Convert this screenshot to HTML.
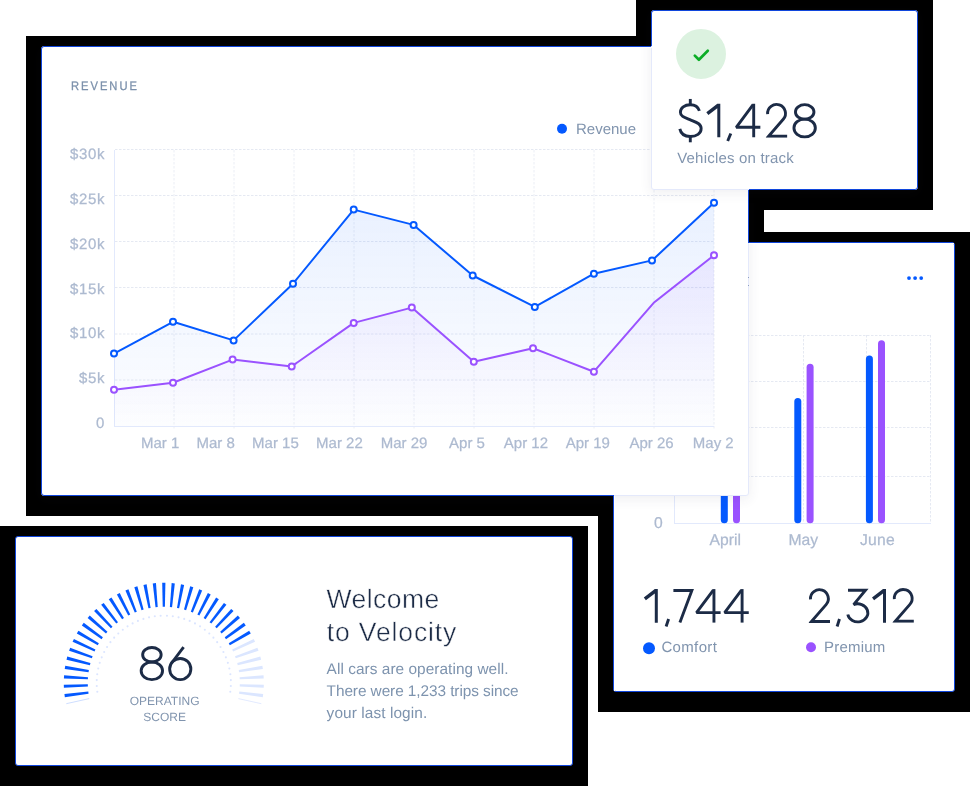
<!DOCTYPE html>
<html>
<head>
<meta charset="utf-8">
<title>Velocity</title>
<style>
html,body{margin:0;padding:0;}
body{width:970px;height:786px;background:#fff;position:relative;overflow:hidden;font-family:"Liberation Sans",sans-serif;}
.abs{position:absolute;}
.blk{position:absolute;background:#000;}
.card{position:absolute;background:#fff;border-radius:3px;box-sizing:border-box;}
.t{position:absolute;white-space:nowrap;line-height:1;}
.soft{color:#8094ae;}
.dark{color:#1c2b46;}
svg{will-change:transform;}
text{text-rendering:geometricPrecision;}
</style>
</head>
<body>

<!-- black backdrops -->
<div class="blk" style="left:26px;top:36px;width:738px;height:480px;"></div>
<div class="blk" style="left:636px;top:0;width:297px;height:210px;"></div>
<div class="blk" style="left:598px;top:232px;width:372px;height:480px;"></div>
<div class="blk" style="left:0;top:526px;width:588px;height:260px;"></div>

<!-- RIGHT CARD -->
<div class="card" id="rightcard" style="left:613px;top:242px;width:342px;height:450px;border:1px solid #1046dc;">
<svg class="abs" style="left:0;top:0" width="340" height="448" viewBox="614 243 340 448">
<g stroke="#e5e9f2" stroke-width="1" stroke-dasharray="2.5 1.5"><line x1="675" y1="335.5" x2="931" y2="335.5"/><line x1="675" y1="381.5" x2="931" y2="381.5"/><line x1="675" y1="427.5" x2="931" y2="427.5"/><line x1="675" y1="476.5" x2="931" y2="476.5"/><line x1="739.5" y1="335" x2="739.5" y2="524"/><line x1="803.5" y1="335" x2="803.5" y2="524"/><line x1="866.5" y1="335" x2="866.5" y2="524"/><line x1="930.5" y1="335" x2="930.5" y2="524"/></g>
<line x1="674.5" y1="335" x2="674.5" y2="524" stroke="#e2e9fc"/><line x1="674" y1="523.5" x2="931" y2="523.5" stroke="#e2e9fc"/>
<rect x="720.8" y="300" width="7" height="223.3" rx="3.5" fill="#0459ff"/>
<rect x="733.0" y="300" width="7" height="223.3" rx="3.5" fill="#9a52ff"/>
<rect x="794.3" y="397.9" width="7" height="125.4" rx="3.5" fill="#0459ff"/>
<rect x="806.6" y="363.7" width="7" height="159.6" rx="3.5" fill="#9a52ff"/>
<rect x="865.9" y="355.4" width="7" height="167.9" rx="3.5" fill="#0459ff"/>
<rect x="878.0" y="340.2" width="7" height="183.1" rx="3.5" fill="#9a52ff"/>
<g font-family="Liberation Sans, sans-serif" font-size="15.7" fill="#adbad0" stroke="#adbad0" stroke-width="0.25" text-anchor="middle"><text x="725.3" y="545.3">April</text><text x="803.2" y="545.3">May</text><text x="877.5" y="545.3" letter-spacing="0.3">June</text><text x="658.4" y="527.7">0</text></g>
<g fill="#0459ff"><circle cx="909" cy="278.1" r="1.9"/><circle cx="915.1" cy="278.1" r="1.9"/><circle cx="921.2" cy="278.1" r="1.9"/></g>
<g fill="none" stroke="#1c2b46" stroke-width="2.9"><polygon stroke="none" fill="#1c2b46" points="654.8,589.1 657.8,589.1 657.8,622.7 654.8,622.7 654.8,593.6 645.9,600.3 643.8,597.6"/><line x1="668.6" y1="619.0" x2="666.1" y2="626.5"/><polyline points="673.40,590.50 691.87,590.50 679.90,622.60" stroke-linejoin="miter"/><polyline points="720.60,612.60 696.49,612.60 713.34,590.05" stroke-linejoin="bevel"/><line x1="713.95" y1="589.10" x2="713.95" y2="622.60"/><polyline points="748.75,612.60 724.64,612.60 741.49,590.05" stroke-linejoin="bevel"/><line x1="742.10" y1="589.10" x2="742.10" y2="622.60"/><clipPath id="k2_1"><rect x="808.65" y="582.90" width="30" height="40.15"/></clipPath><g clip-path="url(#k2_1)"><path d="M810.47,599.32 A8.95,8.95 0 1 1 826.10,604.60 L811.40,621.50 L830.00,621.50" stroke-linejoin="miter"/></g><line x1="839.5" y1="619.0" x2="837.1" y2="626.5"/><path d="M848.00,590.30 L865.50,590.30 L853.60,604.65 A10.1,9.0 0 1 1 847.80,614.50" stroke-linejoin="miter" stroke-miterlimit="3"/><polygon stroke="none" fill="#1c2b46" points="883.0,589.1 886.0,589.1 886.0,622.7 883.0,622.7 883.0,593.6 874.1,600.3 872.0,597.6"/><clipPath id="k2_2"><rect x="892.45" y="582.70" width="30" height="40.15"/></clipPath><g clip-path="url(#k2_2)"><path d="M894.27,599.12 A8.95,8.95 0 1 1 909.90,604.40 L895.20,621.30 L913.80,621.30" stroke-linejoin="miter"/></g></g>
<circle cx="649" cy="648.3" r="6" fill="#0459ff"/><circle cx="811" cy="647.3" r="5" fill="#9a52ff"/>
<g font-family="Liberation Sans, sans-serif" font-size="15" fill="#8094ae"><text id="cf" x="661.4" y="651.9" letter-spacing="0.35">Comfort</text><text id="pm" x="824" y="651.9" letter-spacing="0.2">Premium</text></g>
</svg>
</div>

<!-- REVENUE CARD -->
<div class="card" id="revcard" style="left:41px;top:46px;width:708px;height:450px;border:1px solid #e4e9fb;box-shadow:0 3px 12px 1px rgba(50,60,90,0.07);">
<svg class="abs" style="left:0;top:0" width="706" height="448" viewBox="42 47 706 448">
<defs><linearGradient id="gb" x1="0" y1="150" x2="0" y2="426" gradientUnits="userSpaceOnUse"><stop offset="0" stop-color="#0459ff" stop-opacity="0.105"/><stop offset="1" stop-color="#0459ff" stop-opacity="0.01"/></linearGradient>
<linearGradient id="gp" x1="0" y1="150" x2="0" y2="426" gradientUnits="userSpaceOnUse"><stop offset="0" stop-color="#9a52ff" stop-opacity="0.13"/><stop offset="1" stop-color="#9a52ff" stop-opacity="0.0"/></linearGradient></defs>
<g stroke="#e5e9f2" stroke-width="1" stroke-dasharray="2.5 1.5"><line x1="115" y1="149.5" x2="714" y2="149.5"/><line x1="115" y1="195.5" x2="714" y2="195.5"/><line x1="115" y1="241.5" x2="714" y2="241.5"/><line x1="115" y1="287.5" x2="714" y2="287.5"/><line x1="115" y1="334" x2="714" y2="334"/><line x1="115" y1="380" x2="714" y2="380"/></g>
<g stroke="#ebeef5" stroke-width="1" stroke-dasharray="2.5 1.5"><line x1="174" y1="150" x2="174" y2="430"/><line x1="234" y1="150" x2="234" y2="430"/><line x1="294" y1="150" x2="294" y2="430"/><line x1="354" y1="150" x2="354" y2="430"/><line x1="414" y1="150" x2="414" y2="430"/><line x1="474" y1="150" x2="474" y2="430"/><line x1="534" y1="150" x2="534" y2="430"/><line x1="594" y1="150" x2="594" y2="430"/><line x1="654" y1="150" x2="654" y2="430"/><line x1="714" y1="150" x2="714" y2="430"/></g>
<line x1="114.5" y1="150" x2="114.5" y2="427" stroke="#e2e9fc"/><line x1="114" y1="426.5" x2="714" y2="426.5" stroke="#e2e9fc"/>
<polygon points="114,353.6 173,321.8 233.6,340.4 293,283.7 353.7,209.6 413.6,224.9 472.7,275.5 534.8,306.9 593.9,273.7 652,260.4 714,202.8 714,426 114,426" fill="url(#gb)"/>
<polygon points="114,389.8 173,382.8 232.6,359.6 291.7,366.4 353.7,322.9 411.8,307.6 473.8,361.8 533,348.2 593.9,371.7 653.7,302.8 714,255.2 714,426 114,426" fill="url(#gp)"/>
<polyline points="114,353.6 173,321.8 233.6,340.4 293,283.7 353.7,209.6 413.6,224.9 472.7,275.5 534.8,306.9 593.9,273.7 652,260.4 714,202.8" fill="none" stroke="#0459ff" stroke-width="2" stroke-linejoin="round"/>
<polyline points="114,389.8 173,382.8 232.6,359.6 291.7,366.4 353.7,322.9 411.8,307.6 473.8,361.8 533,348.2 593.9,371.7 653.7,302.8 714,255.2" fill="none" stroke="#9a52ff" stroke-width="2" stroke-linejoin="round"/>
<g fill="#fff" stroke="#0459ff" stroke-width="2"><circle cx="114" cy="353.6" r="3"/><circle cx="173" cy="321.8" r="3"/><circle cx="233.6" cy="340.4" r="3"/><circle cx="293" cy="283.7" r="3"/><circle cx="353.7" cy="209.6" r="3"/><circle cx="413.6" cy="224.9" r="3"/><circle cx="472.7" cy="275.5" r="3"/><circle cx="534.8" cy="306.9" r="3"/><circle cx="593.9" cy="273.7" r="3"/><circle cx="652" cy="260.4" r="3"/><circle cx="714" cy="202.8" r="3"/></g>
<g fill="#fff" stroke="#9a52ff" stroke-width="2"><circle cx="114" cy="389.8" r="3"/><circle cx="173" cy="382.8" r="3"/><circle cx="232.6" cy="359.6" r="3"/><circle cx="291.7" cy="366.4" r="3"/><circle cx="353.7" cy="322.9" r="3"/><circle cx="411.8" cy="307.6" r="3"/><circle cx="473.8" cy="361.8" r="3"/><circle cx="533" cy="348.2" r="3"/><circle cx="593.9" cy="371.7" r="3"/><circle cx="714" cy="255.2" r="3"/></g>
<g font-family="Liberation Sans, sans-serif" font-size="15" fill="#adbad0" stroke="#adbad0" stroke-width="0.25" text-anchor="end" letter-spacing="0.6"><text x="105" y="158.7">$30k</text><text x="105" y="203.6">$25k</text><text x="105" y="248.6">$20k</text><text x="105" y="293.5">$15k</text><text x="105" y="338.4">$10k</text><text x="105" y="383.4">$5k</text><text x="105" y="428.3">0</text></g>
<g font-family="Liberation Sans, sans-serif" font-size="15" fill="#adbad0" stroke="#adbad0" stroke-width="0.25" text-anchor="middle"><text x="160.1" y="447.9">Mar 1</text><text x="215.7" y="447.9">Mar 8</text><text x="275.4" y="447.9">Mar 15</text><text x="339.4" y="447.9">Mar 22</text><text x="404.1" y="447.9">Mar 29</text><text x="467.0" y="447.9">Apr 5</text><text x="525.9" y="447.9">Apr 12</text><text x="587.8" y="447.9">Apr 19</text><text x="651.5" y="447.9">Apr 26</text><text x="713.3" y="447.9">May 2</text></g>
<text transform="translate(70.9,90) scale(0.9,1)" x="0" y="0" font-family="Liberation Sans, sans-serif" font-size="12.4" fill="#7b90ab" stroke="#7b90ab" stroke-width="0.3" stroke-linejoin="round" letter-spacing="2.25">REVENUE</text>
<circle cx="562" cy="128.8" r="5" fill="#0459ff"/>
<text x="576" y="133.7" font-family="Liberation Sans, sans-serif" font-size="15" fill="#8094ae">Revenue</text>
</svg>
</div>

<div class="abs" style="left:41px;top:46px;width:708px;height:450px;box-sizing:border-box;border:1px solid #1046dc;border-radius:3px;clip-path:polygon(0 0,708px 0,708px 197px,573px 197px,573px 450px,0 450px);"></div>

<div class="abs" style="left:748px;top:277px;width:1px;height:1px;background:#8e9fc2;"></div><div class="abs" style="left:748px;top:285px;width:1px;height:1px;background:#8e9fc2;"></div>
<div class="abs" style="left:749px;top:243px;width:205px;height:1px;background:#fff;"></div><div class="abs" style="left:614px;top:496px;width:1px;height:195px;background:#fff;"></div>
<!-- STAT CARD -->
<div class="card" id="statcard" style="left:651px;top:10px;width:267px;height:180px;border:1px solid #e4e9fb;box-shadow:0 3px 12px 1px rgba(50,60,90,0.07);">
<svg class="abs" style="left:0;top:0" width="265" height="178" viewBox="652 11 265 178">
<circle cx="701" cy="53.9" r="25" fill="#dcf2e0"/>
<polyline points="694.8,55.6 698.9,59.7 707.8,50.8" fill="none" stroke="#0bad26" stroke-width="2.7" stroke-linecap="round" stroke-linejoin="round"/>
<g fill="none" stroke="#1c2b46" stroke-width="2.9"><path d="M699.4,110.9 C698.2,107.0 694.8,104.75 690.3,104.75 C684.6,104.75 680.4,108.0 680.4,112.2 C680.4,116.6 684.9,117.65 690.9,120.1 C696.9,122.55 701.15,123.9 701.15,128.6 C701.15,133.4 696.6,136.55 690.3,136.55 C684.6,136.55 680.8,133.5 679.8,128.9"/><line x1="690.3" y1="98.95" x2="690.3" y2="105"/><line x1="690.3" y1="136.3" x2="690.3" y2="142.3"/></g><g fill="none" stroke="#1c2b46" stroke-width="2.9"><polygon stroke="none" fill="#1c2b46" points="717.3,103.7 720.3,103.7 720.3,137.3 717.3,137.3 717.3,108.2 708.4,114.9 706.3,112.2"/><line x1="730.8" y1="133.5" x2="727.7" y2="141.0"/><polyline points="760.35,127.26 736.24,127.26 753.09,104.71" stroke-linejoin="bevel"/><line x1="753.70" y1="103.76" x2="753.70" y2="137.26"/><clipPath id="k2_3"><rect x="765.80" y="97.60" width="30" height="40.15"/></clipPath><g clip-path="url(#k2_3)"><path d="M767.62,114.02 A8.95,8.95 0 1 1 783.25,119.30 L768.55,136.20 L787.15,136.20" stroke-linejoin="miter"/></g><ellipse cx="804.70" cy="111.90" rx="9.25" ry="7.25"/><ellipse cx="804.65" cy="128.00" rx="10.7" ry="8.85"/></g>
<text id="vot" x="677.2" y="162.6" font-family="Liberation Sans, sans-serif" font-size="15" fill="#8094ae" letter-spacing="0.2">Vehicles on track</text>
</svg>
</div>

<div class="abs" style="left:651px;top:10px;width:267px;height:180px;box-sizing:border-box;border:1px solid #1046dc;border-radius:3px;clip-path:polygon(0 0,267px 0,267px 180px,98px 180px,98px 36px,0 36px);"></div>

<div class="abs" style="left:630px;top:47px;width:22px;height:1px;background:#fff;"></div>
<!-- WELCOME CARD -->
<div class="card" id="welcard" style="left:15px;top:536px;width:558px;height:230px;border:1px solid #1046dc;">
<svg class="abs" style="left:0;top:0" width="556" height="228" viewBox="16 537 556 228">
<defs><clipPath id="gclip"><rect x="40" y="560" width="260" height="146"/></clipPath></defs>
<g clip-path="url(#gclip)">
<g fill="#0459ff"><polygon points="88.57,693.65 88.29,691.47 64.42,694.06 64.83,697.23"/><polygon points="87.88,686.51 87.81,684.31 63.80,684.64 63.91,687.84"/><polygon points="87.87,679.34 88.00,677.14 64.08,675.20 63.88,678.40"/><polygon points="88.54,672.19 88.87,670.02 65.24,665.83 64.74,669.00"/><polygon points="89.87,665.15 90.41,663.01 67.28,656.62 66.49,659.72"/><polygon points="91.86,658.25 92.61,656.18 70.17,647.63 69.10,650.65"/><polygon points="94.50,651.58 95.43,649.59 73.91,638.96 72.55,641.86"/><polygon points="97.75,645.19 98.87,643.29 78.44,630.68 76.82,633.44"/><polygon points="101.59,639.13 102.88,637.34 83.73,622.87 81.86,625.46"/><polygon points="105.99,633.46 107.44,631.80 89.74,615.58 87.63,617.99"/><polygon points="110.90,628.23 112.50,626.72 96.41,608.90 94.08,611.10"/><polygon points="116.28,623.48 118.01,622.13 103.68,602.88 101.15,604.84"/><polygon points="122.08,619.26 123.94,618.08 111.48,597.56 108.78,599.28"/><polygon points="128.26,615.61 130.22,614.61 119.75,593.01 116.90,594.47"/><polygon points="134.75,612.56 136.80,611.75 128.41,589.26 125.44,590.44"/><polygon points="141.50,610.14 143.61,609.52 137.39,586.34 134.31,587.23"/><polygon points="148.45,608.36 150.61,607.94 146.60,584.28 143.46,584.88"/><polygon points="155.54,607.24 157.73,607.03 155.96,583.09 152.78,583.40"/><polygon points="162.70,606.80 164.90,606.80 165.40,582.80 162.20,582.80"/><polygon points="169.87,607.03 172.06,607.24 174.82,583.40 171.64,583.09"/><polygon points="176.99,607.94 179.15,608.36 184.14,584.88 181.00,584.28"/><polygon points="183.99,609.52 186.10,610.14 193.29,587.23 190.21,586.34"/><polygon points="190.80,611.75 192.85,612.56 202.16,590.44 199.19,589.26"/><polygon points="197.38,614.61 199.34,615.61 210.70,594.47 207.85,593.01"/><polygon points="203.66,618.08 205.52,619.26 218.82,599.28 216.12,597.56"/><polygon points="209.59,622.13 211.32,623.48 226.45,604.84 223.92,602.88"/><polygon points="215.10,626.72 216.70,628.23 233.52,611.10 231.19,608.90"/><polygon points="220.16,631.80 221.61,633.46 239.97,617.99 237.86,615.58"/><polygon points="224.72,637.34 226.01,639.13 245.74,625.46 243.87,622.87"/><polygon points="228.73,643.29 229.85,645.19 250.78,633.44 249.16,630.68"/></g>
<g fill="#dbe6ff"><polygon points="232.17,649.59 233.10,651.58 255.05,641.86 253.69,638.96"/><polygon points="234.99,656.18 235.74,658.25 258.50,650.65 257.43,647.63"/><polygon points="237.19,663.01 237.73,665.15 261.11,659.72 260.32,656.62"/><polygon points="238.73,670.02 239.06,672.19 262.86,669.00 262.36,665.83"/><polygon points="239.60,677.14 239.73,679.34 263.72,678.40 263.52,675.20"/><polygon points="239.79,684.31 239.72,686.51 263.69,687.84 263.80,684.64"/><polygon points="239.31,691.47 239.03,693.65 262.77,697.23 263.18,694.06"/></g>
<line x1="66.3" y1="703.7" x2="89.2" y2="698.6" stroke="#0459ff" stroke-opacity="0.22" stroke-width="0.9"/>
<line x1="261.3" y1="703.7" x2="238.4" y2="698.6" stroke="#c9d8ff" stroke-opacity="0.6" stroke-width="0.9"/>
</g>
<g fill="#dbe5ff"><circle cx="166.96" cy="615.77" r="1.05"/><circle cx="160.64" cy="615.77" r="1.05"/><circle cx="172.79" cy="616.31" r="1.05"/><circle cx="154.81" cy="616.31" r="1.05"/><circle cx="178.55" cy="617.34" r="1.05"/><circle cx="149.05" cy="617.34" r="1.05"/><circle cx="184.20" cy="618.88" r="1.05"/><circle cx="143.40" cy="618.88" r="1.05"/><circle cx="189.69" cy="620.90" r="1.05"/><circle cx="137.91" cy="620.90" r="1.05"/><circle cx="194.99" cy="623.39" r="1.05"/><circle cx="132.61" cy="623.39" r="1.05"/><circle cx="200.05" cy="626.33" r="1.05"/><circle cx="127.55" cy="626.33" r="1.05"/><circle cx="204.83" cy="629.71" r="1.05"/><circle cx="122.77" cy="629.71" r="1.05"/><circle cx="209.30" cy="633.49" r="1.05"/><circle cx="118.30" cy="633.49" r="1.05"/><circle cx="213.43" cy="637.64" r="1.05"/><circle cx="114.17" cy="637.64" r="1.05"/><circle cx="217.18" cy="642.14" r="1.05"/><circle cx="110.42" cy="642.14" r="1.05"/><circle cx="220.52" cy="646.94" r="1.05"/><circle cx="107.08" cy="646.94" r="1.05"/><circle cx="223.43" cy="652.02" r="1.05"/><circle cx="104.17" cy="652.02" r="1.05"/><circle cx="225.88" cy="657.34" r="1.05"/><circle cx="101.72" cy="657.34" r="1.05"/><circle cx="227.86" cy="662.85" r="1.05"/><circle cx="99.74" cy="662.85" r="1.05"/><circle cx="229.36" cy="668.51" r="1.05"/><circle cx="98.24" cy="668.51" r="1.05"/><circle cx="230.36" cy="674.27" r="1.05"/><circle cx="97.24" cy="674.27" r="1.05"/><circle cx="230.85" cy="680.11" r="1.05"/><circle cx="96.75" cy="680.11" r="1.05"/><circle cx="230.83" cy="685.96" r="1.05"/><circle cx="96.77" cy="685.96" r="1.05"/><circle cx="230.29" cy="691.79" r="1.05"/><circle cx="97.31" cy="691.79" r="1.05"/></g>
<g fill="none" stroke="#1c2b46" stroke-width="2.9"><ellipse cx="151.9" cy="654.7" rx="9.25" ry="7.25"/><ellipse cx="151.85" cy="670.8" rx="10.7" ry="8.85"/><circle cx="180.25" cy="669.05" r="10.6"/><path d="M183.6,647.1 L171.6,663"/></g>
<g font-family="Liberation Sans, sans-serif" font-size="12" fill="#8094ae" text-anchor="middle"><text x="164.6" y="704.8">OPERATING</text><text x="164.6" y="720.8">SCORE</text></g>
<g font-family="Liberation Sans, sans-serif" font-size="26.5" fill="#1c2b46" stroke="#fff" stroke-width="0.45"><text id="w1" x="326.6" y="608.3" letter-spacing="0.45">Welcome</text><text id="w2" x="326.8" y="640.5" letter-spacing="0.87">to Velocity</text></g>
<g font-family="Liberation Sans, sans-serif" font-size="15.4" fill="#7d93ae"><text id="p1" x="326.6" y="674" letter-spacing="0.05">All cars are operating well.</text><text id="p2" x="326.6" y="696" letter-spacing="-0.08">There were 1,233 trips since</text><text id="p3" x="326.6" y="717.5" letter-spacing="0.09">your last login.</text></g>
</svg>
</div>

</body>
</html>
